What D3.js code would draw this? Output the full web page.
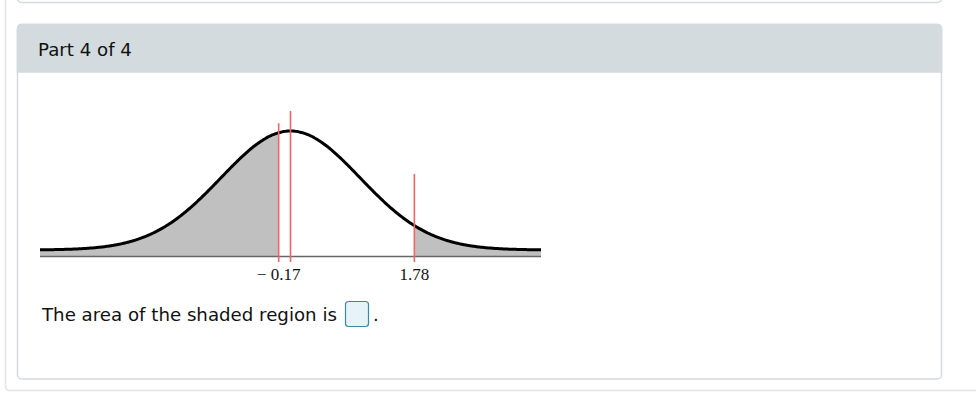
<!DOCTYPE html>
<html>
<head>
<meta charset="utf-8">
<script src="https://cdn.jsdelivr.net/npm/d3@7"></script>
<style>
  html, body { margin: 0; padding: 0; background: #ffffff; }
  svg { display: block; }
</style>
</head>
<body>
<div id="chart"></div>
<script>
// ---- data ----
const headerText = "Part 4 of 4";
const promptText = "The area of the shaded region is";
const zDomain = [-3.6, 3.6];          // standard normal z range shown
const zMean = 0;
const cutoffs = [-0.17, 1.78];        // boundaries of shaded tails
const tickLabels = ["\u2212 0.17", "1.78"];
const shadedRegions = [[-3.6, -0.17], [1.78, 3.6]];
const markerValues = [0, -0.17, 1.78];     // red vertical lines
const markerTops = [0.466, 0.425, 0.255];  // top of each red line (density units)

// ---- layout ----
const W = 976, H = 400;
const svg = d3.select("#chart").append("svg").attr("width", W).attr("height", H);

// outer container frame
svg.append("path")
  .attr("d", "M5.5,-10 L5.5,386 Q5.5,390.5 10,390.5 L990,390.5")
  .attr("fill", "none").attr("stroke", "#dfe5e8").attr("stroke-width", 1.5);

// previous panel bottom
svg.append("rect")
  .attr("x", 17.5).attr("y", -20).attr("width", 924).attr("height", 22.5).attr("rx", 4)
  .attr("fill", "#fff").attr("stroke", "#d3dbde").attr("stroke-width", 1.5);

// panel
svg.append("rect")
  .attr("x", 17.5).attr("y", 24.5).attr("width", 924).attr("height", 354.5).attr("rx", 4)
  .attr("fill", "#fff").attr("stroke", "#d3dbde").attr("stroke-width", 1.5);
svg.append("path")
  .attr("d", "M17.5,72 L17.5,28.5 Q17.5,24.5 21.5,24.5 L937.5,24.5 Q941.5,24.5 941.5,28.5 L941.5,72 Z")
  .attr("fill", "#d3dbde").attr("stroke", "#d3dbde").attr("stroke-width", 1.5);
svg.append("text")
  .attr("x", 38).attr("y", 56)
  .attr("font-family", "DejaVu Sans, Verdana, sans-serif").attr("font-size", 18.2)
  .attr("fill", "#111").text(headerText);

// ---- chart ----
const x = d3.scaleLinear().domain(zDomain).range([40, 541]);
const pdf = z => Math.exp(-0.5 * (z - zMean) * (z - zMean)) / Math.sqrt(2 * Math.PI);
const y = d3.scaleLinear().domain([0, pdf(zMean)]).range([250, 131]);
const axisY = 256.5;

const step = 0.02;
function samples(a, b) {
  const n = Math.max(2, Math.round((b - a) / step));
  return d3.range(n + 1).map(i => a + (b - a) * i / n);
}

const areaGen = d3.area().x(d => x(d)).y0(axisY).y1(d => y(pdf(d)));
svg.selectAll("path.shade").data(shadedRegions).join("path")
  .attr("class", "shade")
  .attr("d", r => areaGen(samples(r[0], r[1])))
  .attr("fill", "#c0c0c0");

// axis line
svg.append("line")
  .attr("x1", x(zDomain[0])).attr("x2", x(zDomain[1]))
  .attr("y1", axisY).attr("y2", axisY)
  .attr("stroke", "#666").attr("stroke-width", 1.5);

// curve
const lineGen = d3.line().x(d => x(d)).y(d => y(pdf(d))).curve(d3.curveBasis);
svg.append("path")
  .attr("d", lineGen(samples(zDomain[0], zDomain[1])))
  .attr("fill", "none").attr("stroke", "#000").attr("stroke-width", 3);

// red marker lines
svg.selectAll("line.marker").data(markerValues).join("line")
  .attr("class", "marker")
  .attr("x1", d => x(d)).attr("x2", d => x(d))
  .attr("y1", (d, i) => y(markerTops[i])).attr("y2", 262)
  .attr("stroke", "#f26464").attr("stroke-width", 1.6);

// tick labels
svg.selectAll("text.tick").data(cutoffs).join("text")
  .attr("class", "tick")
  .attr("x", d => x(d)).attr("y", 280)
  .attr("text-anchor", "middle")
  .attr("font-family", "Liberation Serif, Times New Roman, serif").attr("font-size", 17)
  .attr("fill", "#111")
  .text((d, i) => tickLabels[i]);

// prompt
svg.append("text")
  .attr("x", 42).attr("y", 321)
  .attr("font-family", "DejaVu Sans, Verdana, sans-serif").attr("font-size", 18.2)
  .attr("fill", "#111").text(promptText);
svg.append("rect")
  .attr("x", 345.5).attr("y", 301.5).attr("width", 23).attr("height", 25).attr("rx", 3)
  .attr("fill", "#e6f3f8").attr("stroke", "#3a8c9c").attr("stroke-width", 1.2);
svg.append("text")
  .attr("x", 373).attr("y", 321)
  .attr("font-family", "DejaVu Sans, Verdana, sans-serif").attr("font-size", 18.2)
  .attr("fill", "#111").text(".");
</script>
</body>
</html>
